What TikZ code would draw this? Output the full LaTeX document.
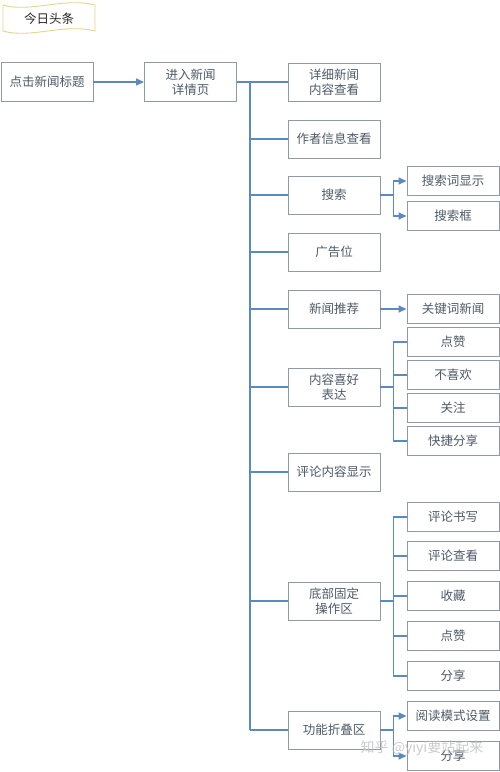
\documentclass[tikz,border=0pt]{standalone}
\usepackage{fontspec}
\setmainfont{Noto Sans CJK SC}
\usetikzlibrary{arrows.meta}
\definecolor{linec}{HTML}{5A8BC0}
\definecolor{boxc}{HTML}{8E9BA7}
\definecolor{txtc}{HTML}{4E5A68}
\definecolor{banb}{HTML}{E6D48A}
\tikzset{
  box/.style={draw=boxc, line width=0.9pt, fill=white, text=txtc, font=\fontsize{12.5}{15.5}\selectfont, align=center, minimum width=92pt, inner sep=1pt},
  midbox/.style={box, minimum height=38pt},
  rbox/.style={box, minimum height=29pt},
  conn/.style={draw=linec, line width=1.4pt},
  arr/.style={conn, -{Triangle[length=8pt,width=7pt]}},
}
\begin{document}
\begin{tikzpicture}[x=1pt,y=-1pt]
\useasboundingbox (0,0) rectangle (500,772);
% banner
\draw[draw=banb, line width=0.9pt, fill=white] (3,5) .. controls (30,13) and (65,-3) .. (95,5) -- (95,31) .. controls (65,23) and (30,39) .. (3,31) -- cycle;
\node[text=black!85, font=\fontsize{12.5}{15}\selectfont] (title) at (49,19) {今日头条};
% left
\node[box, minimum height=39pt] (click) at (47,82) {点击新闻标题};
\node[box, minimum height=39pt] (enter) at (190.5,82) {进入新闻\\详情页};
\draw[arr] (click.east) -- (enter.west);
% middle
\node[midbox] (m1) at (334,82) {详细新闻\\内容查看};
\node[midbox] (m2) at (334,139) {作者信息查看};
\node[midbox] (m3) at (334,195) {搜索};
\node[midbox] (m4) at (334,252) {广告位};
\node[midbox] (m5) at (334,309) {新闻推荐};
\node[midbox] (m6) at (334,387) {内容喜好\\表达};
\node[midbox] (m7) at (334,472) {评论内容显示};
\node[midbox] (m8) at (334,601) {底部固定\\操作区};
\node[midbox] (m9) at (334,730) {功能折叠区};
% trunk
\coordinate (t0) at (250,82);
\coordinate (t1) at (250,730);
\draw[conn] (enter.east) -- (m1.west);
\draw[conn] (t0) -- (t1);
\foreach \m in {m2,m3,m4,m5,m6,m7,m8,m9}{
  \draw[conn] (t0 |- \m.west) -- (\m.west);
}
% right
\node[rbox] (s1) at (453,181) {搜索词显示};
\node[rbox] (s2) at (453,216) {搜索框};
\node[rbox] (k1) at (453,309) {关键词新闻};
\node[rbox] (c1) at (453,342) {点赞};
\node[rbox] (c2) at (453,375) {不喜欢};
\node[rbox] (c3) at (453,408) {关注};
\node[rbox] (c4) at (453,441) {快捷分享};
\node[rbox] (b1) at (453,517) {评论书写};
\node[rbox] (b2) at (453,556) {评论查看};
\node[rbox] (b3) at (453,596) {收藏};
\node[rbox] (b4) at (453,636) {点赞};
\node[rbox] (b5) at (453,676) {分享};
\node[rbox] (f1) at (453,716) {阅读模式设置};
\node[rbox] (f2) at (453,756) {分享};
% branches
\draw[arr] (m3.east) -- ++(13,0) |- (s1.west);
\draw[arr] (m3.east) -- ++(13,0) |- (s2.west);
\draw[arr] (m5.east) -- (k1.west);
\foreach \c in {c1,c2,c3,c4}{
  \draw[conn] (m6.east) -- ++(13,0) |- (\c.west);
}
\foreach \c in {b1,b2,b3,b4,b5}{
  \draw[conn] (m8.east) -- ++(13,0) |- (\c.west);
}
\draw[arr] (m9.east) -- ++(13,0) |- (f1.west);
\draw[arr] (m9.east) -- ++(13,0) |- (f2.west);
% watermark
\node[text=gray!50, opacity=0.8, font=\fontsize{14}{16}\selectfont] (wm) at (422,748) {知乎 @yiyi要站起来};
\end{tikzpicture}
\end{document}
